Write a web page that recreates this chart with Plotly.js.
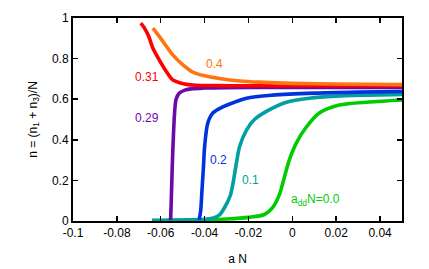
<!DOCTYPE html>
<html>
<head>
<meta charset="utf-8">
<script src="https://cdn.plot.ly/plotly-3.0.1.min.js"></script>
<style>html,body{margin:0;padding:0;background:#fff;}#plot{width:429px;height:269px;}</style>
</head>
<body>
<div id="plot"></div>
<script>
// Series: a_dd N values and curves n(aN)
const labels = ["a<sub>dd</sub>N=0.0", "0.1", "0.2", "0.29", "0.31", "0.4"];
const colors = ["#00cc00", "#00a0a0", "#0033dd", "#6a0aa8", "#ff0000", "#ff7410"];

const x00 = [-0.057, -0.04, -0.03, -0.02, -0.0127, -0.009, -0.0059, -0.0036, -0.0014, 0.0018, 0.0064, 0.0123, 0.0214, 0.035, 0.05];
const y00 = [0.003, 0.006, 0.01, 0.018, 0.032, 0.066, 0.13, 0.217, 0.30, 0.384, 0.463, 0.532, 0.571, 0.586, 0.596];

const x01 = [-0.064, -0.05, -0.04, -0.036, -0.0332, -0.031, -0.0282, -0.0255, -0.0241, -0.0209, -0.0173, -0.0118, -0.0027, 0.0077, 0.02, 0.035, 0.05];
const y01 = [0.003, 0.005, 0.008, 0.015, 0.03, 0.064, 0.128, 0.285, 0.365, 0.448, 0.5, 0.54, 0.585, 0.605, 0.615, 0.62, 0.624];

const x02 = [-0.0425, -0.0418, -0.0412, -0.0405, -0.04, -0.0386, -0.0364, -0.033, -0.03, -0.0209, -0.009, 0.01, 0.03, 0.05];
const y02 = [0.005, 0.05, 0.15, 0.27, 0.365, 0.48, 0.53, 0.555, 0.57, 0.605, 0.62, 0.63, 0.635, 0.638];

const x029 = [-0.0555, -0.0552, -0.0548, -0.0543, -0.0537, -0.053, -0.0515, -0.049, -0.0455, -0.04, -0.03, -0.01, 0.02, 0.05];
const y029 = [0.005, 0.1, 0.25, 0.4, 0.53, 0.6, 0.63, 0.645, 0.652, 0.655, 0.657, 0.658, 0.658, 0.658];

const x031 = [-0.0691, -0.0677, -0.0655, -0.0636, -0.0605, -0.0573, -0.0545, -0.051, -0.0482, -0.044, -0.035, -0.02, 0, 0.02, 0.05];
const y031 = [0.975, 0.955, 0.91, 0.852, 0.79, 0.734, 0.695, 0.68, 0.673, 0.669, 0.667, 0.666, 0.666, 0.666, 0.666];

const x04 = [-0.0636, -0.06, -0.0545, -0.05, -0.0455, -0.04, -0.0332, -0.024, -0.015, 0, 0.02, 0.05];
const y04 = [0.95, 0.9, 0.818, 0.77, 0.734, 0.715, 0.702, 0.69, 0.684, 0.678, 0.675, 0.672];

// label anchor positions (data coords)
const labelX = [0.0105, -0.0191, -0.0336, -0.0664, -0.0664, -0.0355];
const labelY = [0.105, 0.202, 0.30, 0.507, 0.71, 0.773];

const xs = [x00, x01, x02, x029, x031, x04];
const ys = [y00, y01, y02, y029, y031, y04];

const traces = xs.map((x, i) => ({
  x: x, y: ys[i], type: 'scatter', mode: 'lines',
  line: {color: colors[i], width: 3.6, shape: 'spline', smoothing: 0.8},
  showlegend: false, hoverinfo: 'skip'
}));

const font = {family: 'Liberation Sans, Arial, sans-serif', size: 12, color: '#000'};

const annotations = labels.map((t, i) => ({
  x: labelX[i], y: labelY[i], xref: 'x', yref: 'y', text: t, showarrow: false,
  font: {family: font.family, size: 12, color: colors[i]}, xanchor: 'center', yanchor: 'middle'
}));

const layout = {
  width: 429, height: 269,
  margin: {l: 73, r: 27, t: 18, b: 48, pad: 0},
  paper_bgcolor: '#fff', plot_bgcolor: '#fff',
  font: font,
  xaxis: {
    range: [-0.1, 0.05], tickvals: [-0.1, -0.08, -0.06, -0.04, -0.02, 0, 0.02, 0.04],
    ticktext: ['-0.1', '-0.08', '-0.06', '-0.04', '-0.02', '0', '0.02', '0.04'],
    ticks: 'inside', ticklen: 5, tickwidth: 1.5, tickcolor: '#000',
    showline: true, linecolor: '#000', linewidth: 2, mirror: 'ticks',
    showgrid: false, zeroline: false,
    title: {text: 'a N', font: font, standoff: 15}
  },
  yaxis: {
    range: [0, 1], tickvals: [0, 0.2, 0.4, 0.6, 0.8, 1],
    ticktext: ['0', '0.2', '0.4', '0.6', '0.8', '1'],
    ticks: 'inside', ticklen: 5, tickwidth: 1.5, tickcolor: '#000',
    showline: true, linecolor: '#000', linewidth: 2, mirror: 'ticks',
    showgrid: false, zeroline: false,
    title: {text: 'n = (n<sub>1</sub> + n<sub>3</sub>)/N', font: font, standoff: 12}
  },
  annotations: annotations
};

Plotly.newPlot('plot', traces, layout, {staticPlot: true, displayModeBar: false});
</script>
</body>
</html>
